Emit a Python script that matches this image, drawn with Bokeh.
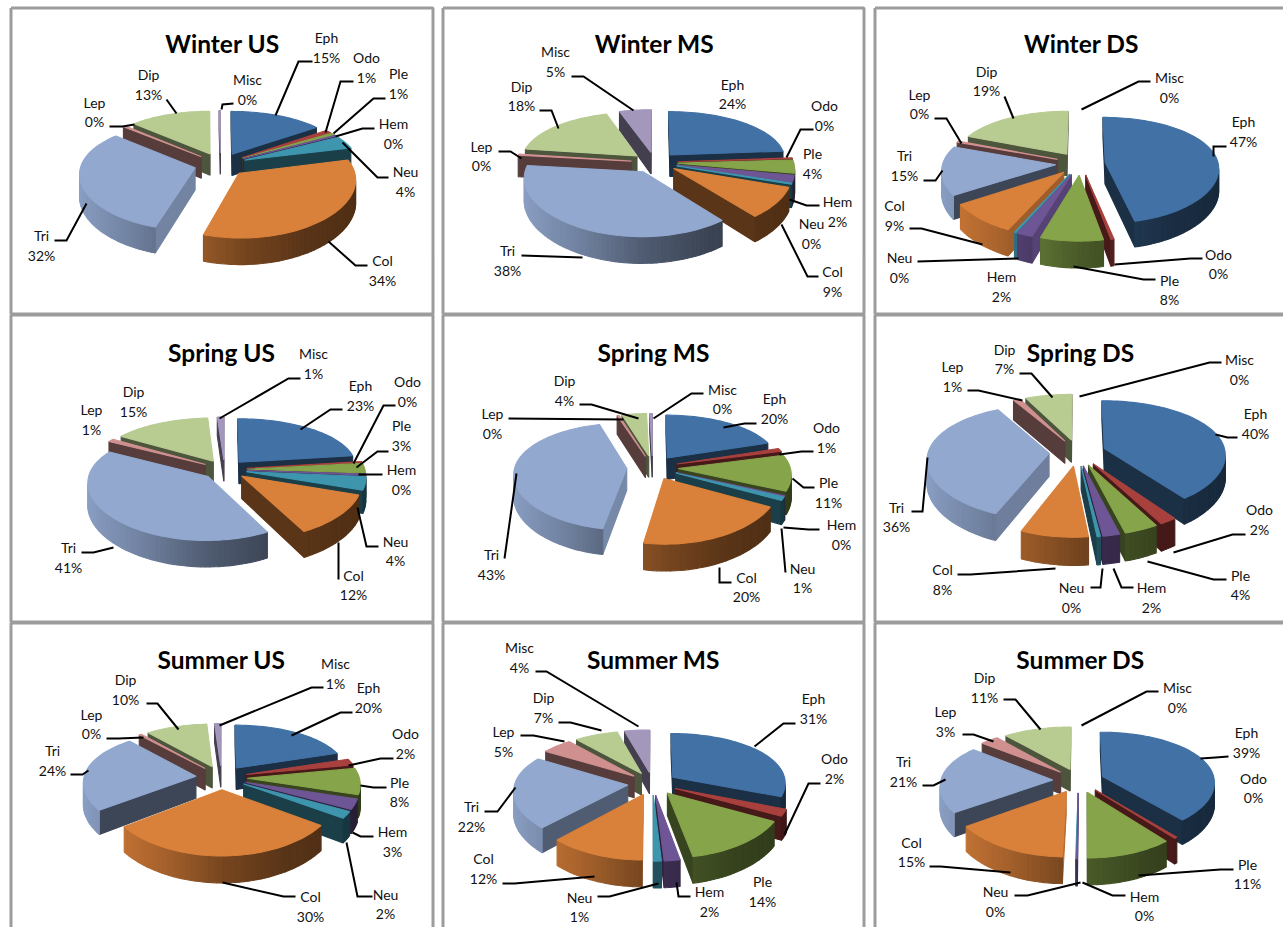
import math
from bokeh.core.properties import value
from bokeh.embed import file_html
from bokeh.models import Range1d
from bokeh.plotting import figure
from bokeh.resources import INLINE

# Insect orders, in the order the slices run clockwise from twelve o'clock
ORDERS = ["Eph", "Odo", "Ple", "Hem", "Neu", "Col", "Tri", "Lep", "Dip", "Misc"]

# Percent of the catch per order
WINTER_US = [15, 1, 0.8, 0.3, 4, 34, 32, 0.4, 13, 0.2]
WINTER_MS = [24, 0.3, 4, 2, 0.4, 9, 38, 0.4, 18, 5]
WINTER_DS = [47, 0.4, 8, 2, 0.2, 9, 15, 0.4, 19, 0]
SPRING_US = [23, 0.3, 3, 0.3, 4, 12, 41, 1, 15, 1]
SPRING_MS = [20, 1, 11, 0.2, 1, 20, 43, 0.3, 4, 0.4]
SPRING_DS = [40, 2, 4, 2, 0.4, 8, 36, 1, 7, 0]
SUMMER_US = [20, 2, 8, 3, 2, 30, 24, 0.4, 10, 1]
SUMMER_MS = [31, 2, 14, 2, 1, 12, 22, 5, 7, 4]
SUMMER_DS = [39, 0.4, 11, 0.1, 0.1, 15, 21, 3, 11, 0]

TOP_COLORS = ["#4271A5", "#A8403D", "#86A44A", "#6E5595", "#3E96AE",
              "#D9803A", "#92A8CF", "#D09090", "#B8CC92", "#A497BC"]

# Page placement of each pie: centre x, centre y, x radius, y radius, depth, explosion
PANELS = [
    ("Winter US", WINTER_US, 222, 43, (220, 164, 114, 52, 22, 0.23)),
    ("Winter MS", WINTER_MS, 654, 43, (654, 162, 116, 52, 22, 0.20)),
    ("Winter DS", WINTER_DS, 1081, 43, (1080, 163, 113, 52, 22, 0.22)),
    ("Spring US", SPRING_US, 221, 352, (224, 469, 118, 52, 22, 0.19)),
    ("Spring MS", SPRING_MS, 653, 352, (652, 467, 112, 52, 22, 0.23)),
    ("Spring DS", SPRING_DS, 1080, 352, (1077, 452, 121, 56, 23, 0.235)),
    ("Summer US", SUMMER_US, 221, 659, (221, 777, 112, 52, 22, 0.23)),
    ("Summer MS", SUMMER_MS, 653, 659, (652, 783, 113, 52, 22, 0.22)),
    ("Summer DS", SUMMER_DS, 1080, 659, (1078, 780, 112, 52, 22, 0.23)),
]

# Callout text anchors per panel: order -> (x, name y, percent y)
LABEL_ANCHORS = [
    [(326, 37, 57), (366, 57, 77), (398, 73, 93), (393, 123, 143), (405, 171, 191),
     (382, 260, 280), (41, 235, 255), (94, 102, 121), (148, 74, 94), (247, 79, 99)],
    [(732, 84, 103), (824, 105, 125), (812, 153, 173), (837, 201, 221), (811, 223, 243),
     (832, 271, 291), (507, 250, 270), (481, 146, 165), (521, 86, 105), (555, 51, 71)],
    [(1243, 121, 141), (1218, 254, 273), (1169, 280, 299), (1001, 276, 296), (899, 257, 277),
     (894, 205, 225), (904, 155, 175), (919, 94, 113), (986, 71, 90), (1169, 77, 97)],
    [(360, 385, 405), (407, 381, 401), (401, 425, 445), (401, 469, 489), (395, 541, 560),
     (353, 575, 594), (68, 547, 567), (91, 409, 429), (133, 391, 411), (313, 353, 373)],
    [(774, 398, 418), (826, 427, 447), (828, 482, 502), (841, 524, 544), (802, 568, 587),
     (746, 577, 596), (491, 554, 574), (492, 413, 433), (564, 380, 400), (722, 389, 408)],
    [(1255, 413, 433), (1259, 509, 529), (1240, 575, 594), (1151, 587, 607), (1071, 587, 607),
     (942, 569, 589), (896, 507, 526), (952, 366, 386), (1004, 349, 368), (1239, 359, 379)],
    [(368, 687, 707), (405, 733, 753), (399, 782, 801), (392, 831, 851), (385, 894, 913),
     (310, 896, 916), (52, 750, 770), (91, 714, 733), (125, 679, 699), (335, 663, 683)],
    [(813, 698, 718), (834, 758, 778), (762, 881, 901), (709, 891, 911), (579, 897, 916),
     (483, 858, 878), (471, 806, 826), (503, 731, 751), (543, 697, 717), (519, 647, 667)],
    [(1246, 732, 752), (1253, 778, 797), (1247, 864, 883), (1144, 896, 915), (995, 891, 911),
     (911, 842, 861), (903, 761, 781), (945, 711, 731), (984, 677, 697), (1177, 687, 707)],
]

# Leader polylines from each callout to its slice, same order of orders; None where absent
LEADERS = [
    [[(312, 61), (298, 61), (275, 115)], [(353, 81), (340, 81), (325, 132)],
     [(385, 98), (373, 98), (333, 133)], [(374, 128), (362, 128), (335, 136)],
     [(388, 177), (377, 177), (342, 142)], [(367, 265), (355, 265), (328, 241)],
     [(54, 240), (66, 240), (86, 203)], [(109, 126), (122, 126), (134, 124)],
     [(166, 99), (176, 113)], [(233, 103), (222, 104), (221, 109)]],
    [None, [(813, 129), (800, 129), (786, 157)], None,
     [(819, 205), (806, 205), (789, 199)], None, [(818, 276), (807, 276), (781, 224)],
     [(521, 255), (582, 257)], [(498, 151), (510, 151), (521, 158)],
     [(539, 110), (551, 110), (558, 128)], [(571, 76), (583, 76), (633, 110)]],
    [[(1226, 146), (1213, 146), (1213, 156)], [(1202, 258), (1190, 258), (1114, 264)],
     [(1155, 279), (1143, 279), (1073, 266)], None, [(917, 261), (1018, 258)],
     [(909, 228), (921, 228), (982, 244)], [(923, 180), (935, 180), (942, 170)],
     [(934, 118), (946, 118), (961, 143)], [(1004, 96), (1013, 118)],
     [(1150, 81), (1138, 81), (1081, 109)]],
    [[(342, 409), (330, 409), (300, 429)], [(395, 405), (383, 405), (353, 463)],
     [(388, 451), (377, 451), (356, 467)], [(382, 474), (358, 474)],
     [(378, 546), (366, 546), (357, 507)], [(338, 579), (338, 542)],
     [(81, 552), (93, 552), (113, 547)], None, None,
     [(300, 378), (288, 378), (219, 418)]],
    [[(756, 423), (744, 423), (723, 427)], [(813, 451), (801, 451), (779, 454)],
     [(814, 487), (803, 487), (792, 478)], [(819, 529), (808, 529), (783, 527)],
     [(785, 572), (781, 528)], [(731, 582), (719, 582), (719, 567)],
     [(504, 558), (516, 473)], [(508, 418), (623, 419)],
     [(579, 404), (591, 404), (638, 418)], [(703, 393), (691, 393), (653, 418)]],
    [[(1237, 437), (1227, 437), (1215, 434)], [(1245, 534), (1232, 534), (1173, 552)],
     [(1226, 579), (1213, 579), (1147, 561)], [(1133, 587), (1121, 587), (1113, 568)],
     [(1090, 587), (1100, 587), (1102, 568)], [(957, 574), (970, 574), (1055, 568)],
     [(911, 511), (922, 511), (927, 457)], [(967, 390), (978, 390), (1022, 400)],
     [(1019, 373), (1031, 373), (1052, 397)], [(1221, 362), (1209, 362), (1079, 396)]],
    [[(352, 712), (340, 712), (291, 735)], [(393, 758), (380, 758), (348, 765)],
     [(386, 787), (373, 787), (360, 785)], [(373, 836), (360, 836), (352, 832)],
     [(372, 896), (357, 896), (346, 842)], [(295, 896), (283, 896), (222, 882)],
     [(70, 774), (82, 774), (88, 770)], [(106, 738), (118, 738), (143, 737)],
     [(146, 703), (157, 703), (178, 729)], [(323, 687), (311, 687), (219, 725)]],
    [[(795, 723), (783, 723), (754, 746)], [(820, 783), (808, 783), (784, 834)], None,
     [(690, 896), (678, 896), (676, 882)], [(597, 896), (609, 896), (658, 883)],
     [(502, 883), (514, 883), (594, 876)], [(484, 811), (497, 811), (515, 787)],
     [(520, 735), (533, 735), (564, 741)], [(558, 722), (570, 722), (601, 730)],
     [(535, 671), (546, 671), (638, 726)]],
    [[(1228, 756), (1215, 757), (1200, 758)], None,
     [(1233, 869), (1220, 869), (1138, 875)], [(1125, 895), (1112, 895), (1082, 882)],
     [(1014, 895), (1027, 895), (1080, 882)], [(929, 866), (940, 866), (1010, 872)],
     [(922, 785), (933, 785), (945, 779)], [(962, 734), (973, 734), (993, 741)],
     [(1003, 699), (1015, 699), (1040, 729)], [(1158, 691), (1146, 691), (1081, 725)]],
]

# Panel frames: vertical rules and horizontal rules of the 3 x 3 block
COLUMN_EDGES = [(10.5, 432.5), (442.5, 863.5), (874.5, 1290)]
ROW_EDGES = [(7.5, 313.5), (314.5, 621.5), (622.5, 935)]

PERSPECTIVE_X = 0.10
PERSPECTIVE_Y = 0.15
ARC_STEP = math.radians(2)
WALL_FACTOR = 0.42


def shade(color, factor):
    r, g, b = (int(color[i:i + 2], 16) for i in (1, 3, 5))
    return "#%02x%02x%02x" % (min(255, int(r * factor)), min(255, int(g * factor)), min(255, int(b * factor)))


def lighting(nx):
    """Brightness of a curved wall for the x part of its outward normal."""
    stops = [(-1, 0.95), (-0.5, 0.78), (0, 0.55), (0.5, 0.41), (1, 0.36)]
    for (a, fa), (b, fb) in zip(stops, stops[1:]):
        if nx <= b:
            return fa + (fb - fa) * (nx - a) / (b - a)
    return stops[-1][1]


def project(X, Y, z, geom):
    cx, cy, rx, ry, depth, _ = geom
    sx = 1 / (1 - PERSPECTIVE_X * Y)
    sy = 1 / (1 - PERSPECTIVE_Y * Y)
    return cx + rx * X * sx, cy + ry * Y * sy + z * depth * sy


def wedge_faces(a0, a1, color, geom):
    """Wall and top polygons of one exploded wedge, listed for painting."""
    explode = geom[5]
    mid = (a0 + a1) / 2
    ox, oy = explode * math.sin(mid), -explode * math.cos(mid)
    steps = max(1, int((a1 - a0) / ARC_STEP))
    angles = [a0 + (a1 - a0) * i / steps for i in range(steps + 1)]
    rim = [(ox + math.sin(a), oy - math.cos(a)) for a in angles]
    apex = (ox, oy)
    faces = []

    def wall(P, Q, fill):
        p, q = project(*P, 0, geom), project(*Q, 0, geom)
        if q[0] - p[0] < 0:
            pb, qb = project(*P, 1, geom), project(*Q, 1, geom)
            faces.append(([p[0], q[0], qb[0], pb[0]], [p[1], q[1], qb[1], pb[1]], fill))

    # The cut face on the leading edge catches light when it looks right
    nx = math.sin(a0 - math.pi / 2)
    lead = WALL_FACTOR + max(0.0, nx - 0.6) / 0.35 * 0.36
    wall(apex, rim[0], shade(color, lead))
    wall(rim[-1], apex, shade(color, WALL_FACTOR))
    for i in range(steps):
        a = (angles[i] + angles[i + 1]) / 2
        wall(rim[i], rim[i + 1], shade(color, lighting(math.sin(a))))

    outline = [project(*pt, 0, geom) for pt in [apex] + rim]
    faces.append(([pt[0] for pt in outline], [pt[1] for pt in outline], color))
    return faces


p = figure(width=1283, height=927, output_backend="svg", toolbar_location=None,
           x_range=Range1d(0, 1283), y_range=Range1d(927, 0), min_border=0,
           x_axis_location=None, y_axis_location=None, outline_line_color=None)
p.grid.visible = False
p.background_fill_color = "white"

frame_xs, frame_ys = [], []
for left, right in COLUMN_EDGES:
    for top, bottom in ROW_EDGES:
        frame_xs.append([left, right, right, left, left])
        frame_ys.append([top, top, bottom, bottom, top])
p.multi_line(frame_xs, frame_ys, line_color="#9c9c9c", line_width=3)

for panel_index, (title, values, title_x, title_y, geom) in enumerate(PANELS):
    total = sum(values)
    cumulative = 0.0
    slices = []
    for order_index, v in enumerate(values):
        a0 = 2 * math.pi * cumulative / total
        cumulative += v
        a1 = 2 * math.pi * cumulative / total
        if v > 0:
            slices.append((-math.cos((a0 + a1) / 2), a0, a1, order_index))
    xs, ys, fills = [], [], []
    for _, a0, a1, order_index in sorted(slices):
        for fx, fy, fill in wedge_faces(a0, a1, TOP_COLORS[order_index], geom):
            xs.append(fx)
            ys.append(fy)
            fills.append(fill)
    # A hairline in the face colour closes the seams between wall strips
    p.patches(xs, ys, fill_color=fills, line_color=fills, line_width=1.1)

    leaders = [seg for seg in LEADERS[panel_index] if seg]
    p.multi_line([[pt[0] for pt in seg] for seg in leaders],
                 [[pt[1] for pt in seg] for seg in leaders],
                 line_color="black", line_width=2, line_join="miter")

    anchors = LABEL_ANCHORS[panel_index]
    p.text([a[0] for a in anchors], [a[1] for a in anchors], text=ORDERS,
           text_font=value("Lato"), text_font_size="14px", text_color="#111111",
           text_align="center", text_baseline="middle")
    p.text([a[0] for a in anchors], [a[2] for a in anchors],
           text=[f"{round(v)}%" for v in values],
           text_font=value("Lato"), text_font_size="14px", text_color="#111111",
           text_align="center", text_baseline="middle")
    p.text([title_x], [title_y], text=[title], text_font=value("Lato"),
           text_font_style="bold", text_font_size="24.5px", text_color="black",
           text_align="center", text_baseline="middle")

open("out.html", "w").write(file_html(p, INLINE))
